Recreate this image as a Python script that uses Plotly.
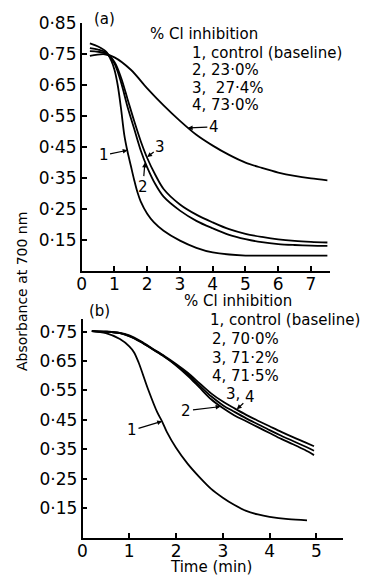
import plotly.graph_objects as go

WIN_W, WIN_H = 369, 578
OFF = 8                      # page body margin in the browser
W, H = WIN_W - OFF, WIN_H - OFF

# ---------------- Data: panel (a) ----------------
a_x1 = [0.25, 0.5, 0.75, 0.9, 1.0, 1.1, 1.2, 1.3, 1.4, 1.5, 1.6, 1.7, 1.8, 2.0, 2.2, 2.5, 3.0, 3.5, 4.0, 5.0, 6.0, 7.5]
a_y1 = [0.785, 0.775, 0.758, 0.73, 0.70, 0.65, 0.575, 0.49, 0.435, 0.39, 0.345, 0.305, 0.275, 0.235, 0.208, 0.18, 0.148, 0.125, 0.11, 0.10, 0.10, 0.10]

a_x2 = [0.25, 0.5, 0.75, 1.0, 1.2, 1.4, 1.6, 1.8, 2.0, 2.25, 2.5, 3.0, 3.5, 4.0, 4.5, 5.0, 5.5, 6.0, 6.5, 7.0, 7.5]
a_y2 = [0.77, 0.765, 0.755, 0.72, 0.66, 0.58, 0.51, 0.44, 0.385, 0.33, 0.29, 0.245, 0.212, 0.188, 0.167, 0.153, 0.143, 0.137, 0.134, 0.132, 0.131]

a_x3 = [0.25, 0.5, 0.75, 1.0, 1.2, 1.4, 1.6, 1.8, 2.0, 2.25, 2.5, 3.0, 3.5, 4.0, 4.5, 5.0, 5.5, 6.0, 6.5, 7.0, 7.5]
a_y3 = [0.76, 0.758, 0.752, 0.725, 0.675, 0.605, 0.535, 0.47, 0.415, 0.36, 0.315, 0.265, 0.232, 0.207, 0.185, 0.17, 0.16, 0.152, 0.147, 0.144, 0.142]

a_x4 = [0.25, 0.7, 1.0, 1.5, 2.0, 2.5, 3.0, 3.5, 4.0, 4.5, 5.0, 5.5, 6.0, 6.5, 7.0, 7.5]
a_y4 = [0.745, 0.75, 0.74, 0.70, 0.64, 0.585, 0.535, 0.49, 0.455, 0.425, 0.40, 0.383, 0.368, 0.357, 0.349, 0.343]

# ---------------- Data: panel (b) ----------------
b_x1 = [0.2, 0.5, 0.8, 1.0, 1.1, 1.2, 1.4, 1.6, 1.7, 1.8, 2.0, 2.25, 2.5, 2.75, 3.0, 3.25, 3.5, 3.75, 4.0, 4.4, 4.8]
b_y1 = [0.752, 0.745, 0.725, 0.70, 0.68, 0.645, 0.555, 0.475, 0.445, 0.41, 0.355, 0.30, 0.255, 0.215, 0.185, 0.16, 0.14, 0.128, 0.12, 0.112, 0.108]

b_x = [0.2, 0.5, 0.8, 1.0, 1.25, 1.5, 1.75, 2.0, 2.25, 2.5, 2.75, 3.0, 3.25, 3.5, 3.75, 4.0, 4.25, 4.5, 4.75, 4.95]
b_y2 = [0.752, 0.75, 0.745, 0.735, 0.715, 0.69, 0.665, 0.635, 0.60, 0.56, 0.52, 0.49, 0.465, 0.445, 0.425, 0.405, 0.385, 0.367, 0.348, 0.33]
b_y3 = [0.752, 0.75, 0.745, 0.735, 0.715, 0.69, 0.665, 0.637, 0.605, 0.567, 0.53, 0.50, 0.477, 0.455, 0.435, 0.415, 0.396, 0.378, 0.36, 0.345]
b_y4 = [0.752, 0.75, 0.746, 0.737, 0.717, 0.692, 0.667, 0.64, 0.61, 0.575, 0.54, 0.512, 0.489, 0.467, 0.447, 0.428, 0.409, 0.391, 0.374, 0.36]

# ---------------- Ticks / text ----------------
a_xticks = [0, 1, 2, 3, 4, 5, 6, 7]
a_yticks = [0.15, 0.25, 0.35, 0.45, 0.55, 0.65, 0.75, 0.85]
b_xticks = [0, 1, 2, 3, 4, 5]
b_yticks = [0.15, 0.25, 0.35, 0.45, 0.55, 0.65, 0.75]

def dot(v):
    return ("%.2f" % v).replace(".", "\u00b7")

a_legend = ["% Cl inhibition", "1, control (baseline)", "2, 23\u00b70%", "3,  27\u00b74%", "4, 73\u00b70%"]
b_legend = ["% Cl inhibition", "1, control (baseline)", "2, 70\u00b70%", "3, 71\u00b72%", "4, 71\u00b75%"]

FONT = "DejaVu Sans"
LW = 1.8

def fx(px):  # window pixel x -> paper fraction
    return (px - OFF) / W

def fy(py):  # window pixel y -> paper fraction
    return 1 - (py - OFF) / H

fig = go.Figure()
for xs, ys in [(a_x1, a_y1), (a_x2, a_y2), (a_x3, a_y3), (a_x4, a_y4)]:
    fig.add_trace(go.Scatter(x=xs, y=ys, mode="lines", xaxis="x", yaxis="y",
                             line=dict(color="black", width=LW, shape="spline", smoothing=0.9)))
for xs, ys in [(b_x1, b_y1), (b_x, b_y2), (b_x, b_y3), (b_x, b_y4)]:
    fig.add_trace(go.Scatter(x=xs, y=ys, mode="lines", xaxis="x2", yaxis="y2",
                             line=dict(color="black", width=LW, shape="spline", smoothing=0.9)))

axis_common = dict(showline=True, linecolor="black", linewidth=1.6, ticks="inside", ticklen=5,
                   tickwidth=1.5, tickcolor="black", showgrid=False, zeroline=False,
                   automargin=False,
                   tickfont=dict(family=FONT, size=17, color="black"))

fig.update_layout(
    template="none",
    width=W, height=H, showlegend=False,
    margin=dict(l=0, r=0, t=0, b=0, pad=0),
    paper_bgcolor="white", plot_bgcolor="white",
    xaxis=dict(domain=[fx(81.7), fx(330)], range=[0, 7.58], anchor="y", ticklabelstandoff=-3,
               tickvals=a_xticks, ticktext=[str(v) for v in a_xticks], **axis_common),
    yaxis=dict(domain=[fy(270.7), fy(23.3)], range=[0.051, 0.85], anchor="x",
               tickvals=a_yticks, ticktext=[dot(v) for v in a_yticks], **axis_common),
    xaxis2=dict(domain=[fx(82.5), fx(343)], range=[0, 5.57], anchor="y2", ticklabelstandoff=-3,
                tickvals=b_xticks, ticktext=[str(v) for v in b_xticks], **axis_common),
    yaxis2=dict(domain=[fy(537.7), fy(319)], range=[0.049, 0.793], anchor="x2",
                tickvals=b_yticks, ticktext=[dot(v) for v in b_yticks], **axis_common),
)

ann = []
def text(px, py, s, size=15, xanchor="left", angle=0):
    ann.append(dict(x=fx(px), y=fy(py), xref="paper", yref="paper", text=s, showarrow=False,
                    xanchor=xanchor, yanchor="middle", textangle=angle,
                    font=dict(family=FONT, size=size, color="black")))

text(92, 19, "(a)")
a_pos = [(148, 34), (190, 53), (190, 70), (190, 88), (190, 105)]
for (px, py), s in zip(a_pos, a_legend):
    text(px, py, s)

text(87, 311, "(b)")
b_pos = [(182, 301), (208, 320), (210, 339), (210, 358), (210, 376)]
for (px, py), s in zip(b_pos, b_legend):
    text(px, py, s)

text(211, 567, "Time (min)", xanchor="center")
text(22, 292, "Absorbance at 700 nm", size=14, xanchor="center", angle=-90)

def arrow(xr, yr, x, y, s, ax, ay):
    ann.append(dict(x=x, y=y, xref=xr, yref=yr, text=s, showarrow=True, ax=ax, ay=ay,
                    arrowhead=2, arrowsize=0.8, arrowwidth=1.2, arrowcolor="black", standoff=0,
                    font=dict(family=FONT, size=15, color="black")))

arrow("x", "y", 3.24, 0.512, "4", 26, -1)
arrow("x", "y", 2.0, 0.418, "3", 13, -10)
arrow("x", "y", 1.93, 0.40, "2", -2, 24)
arrow("x", "y", 1.40, 0.44, "1", -24, 5)

arrow("x2", "y2", 1.70, 0.445, "1", -30, 9)
arrow("x2", "y2", 2.95, 0.495, "2", -34, 4)
arrow("x2", "y2", 3.02, 0.50, "3,", 9, -11)
arrow("x2", "y2", 3.30, 0.486, "4", 13, -12)

fig.update_layout(annotations=ann)
fig.write_html("out.html")
